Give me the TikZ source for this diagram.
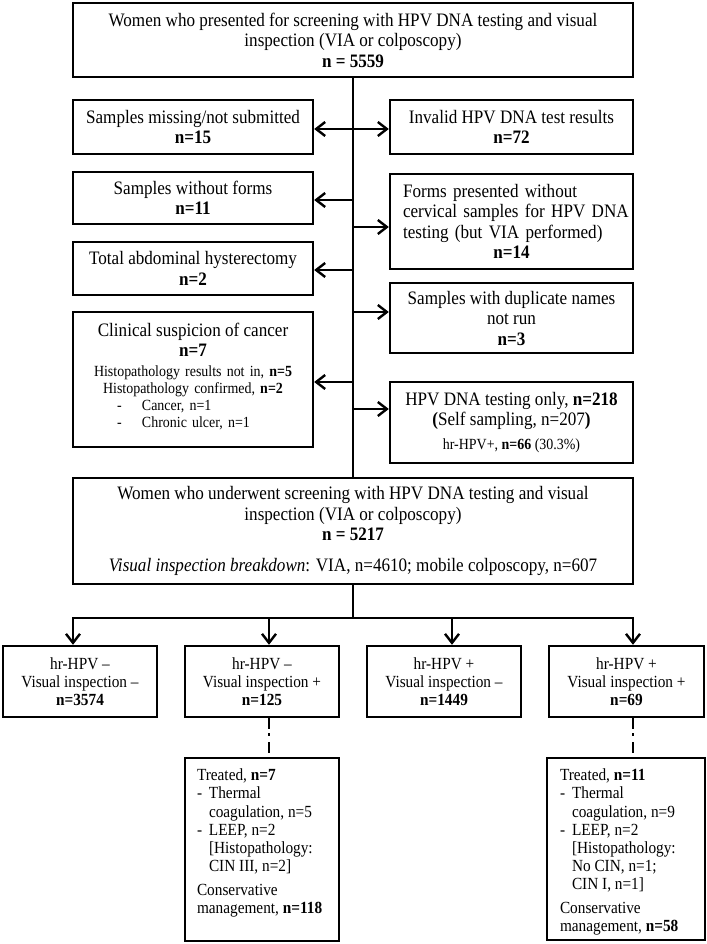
\documentclass[tikz,border=0pt]{standalone}
\usepackage{fontspec}
\setmainfont{Liberation Serif}[FakeStretch=0.9]
\usetikzlibrary{arrows.meta}
\newcommand\bigf{\fontsize{19}{20.5}\selectfont}
\newcommand\midf{\fontsize{17}{18.1}\selectfont}
\newcommand\smallf{\fontsize{15.5}{17}\selectfont}
\newcommand\dsh{\makebox[12pt][l]{-}}
\newcommand\myind{\hspace*{12pt}}
\begin{document}
\begin{tikzpicture}[x=1pt,y=-1pt,
  box/.style={draw, line width=2.4pt, inner sep=0pt, align=center, font=\bigf},
  lbl/.style={inner sep=0pt},
  ln/.style={line width=2.4pt},
  arr/.style={line width=2.4pt, -{Straight Barb[length=9pt,width=14pt]}},
  arrb/.style={line width=2.4pt, {Straight Barb[length=9pt,width=14pt]}-{Straight Barb[length=9pt,width=14pt]}},
  dashdot/.style={line width=2.4pt, dash pattern=on 11pt off 4pt on 3pt off 6pt}]
\useasboundingbox (0,0) rectangle (706,944);

% top
\node[box, minimum width=560, minimum height=74] (top) at (353,40)
  {Women who presented for screening with HPV DNA testing and visual\\inspection (VIA or colposcopy)\\\textbf{n = 5559}};

% left column
\node[box, minimum width=240, minimum height=54] (miss) at (193,127)
  {Samples missing/not submitted\\\textbf{n=15}};
\node[box, minimum width=240, minimum height=52] (swf) at (193,198)
  {Samples without forms\\\textbf{n=11}};
\node[box, minimum width=240, minimum height=53] (hyst) at (193,268.5)
  {Total abdominal hysterectomy\\\textbf{n=2}};
\node[box, minimum width=240, minimum height=135] (clin) at (193,379.5) {};
\node[lbl, font=\bigf, align=center] (clint) at (193,340)
  {Clinical suspicion of cancer\\\textbf{n=7}};
\node[lbl, font=\smallf, align=center, text width=240] (clins) at (193,398)
  {Histopathology results not in, \textbf{n=5}\\Histopathology confirmed, \textbf{n=2}\\
   \makebox[\linewidth][l]{\hspace*{44pt}\makebox[25pt][l]{-}Cancer, n=1}\\
   \makebox[\linewidth][l]{\hspace*{44pt}\makebox[25pt][l]{-}Chronic ulcer, n=1}};

% right column
\node[box, minimum width=243, minimum height=54] (inv) at (511.5,127)
  {Invalid HPV DNA test results\\\textbf{n=72}};
\node[box, minimum width=243, minimum height=95, text width=217] (forms) at (511.5,221.5)
  {\makebox[\linewidth][s]{Forms presented without}\\
   \makebox[\linewidth][l]{cervical samples for HPV DNA}\\
   \makebox[\linewidth][l]{testing (but VIA performed)}\\
   \textbf{n=14}};
\node[box, minimum width=243, minimum height=70] (dup) at (511.5,318)
  {Samples with duplicate names\\not run\\\textbf{n=3}};
\node[box, minimum width=243, minimum height=81] (only) at (511.5,422.5)
  {HPV DNA testing only, \textbf{n=218}\\\textbf{(}Self sampling, n=207\textbf{)}\\[3pt]{\smallf hr-HPV+, \textbf{n=66} (30.3\%)}};

% second main box
\node[box, minimum width=560, minimum height=106] (big2) at (353,531)
  {Women who underwent screening with HPV DNA testing and visual\\inspection (VIA or colposcopy)\\\textbf{n = 5217}\\[10pt]\textit{Visual inspection breakdown}: VIA, n=4610; mobile colposcopy, n=607};

% four outcome boxes
\node[box, font=\midf, minimum width=154, minimum height=71] (b1) at (80,681.5)
  {hr-HPV \textendash\\Visual inspection \textendash\\\textbf{n=3574}};
\node[box, font=\midf, minimum width=154, minimum height=71] (b2) at (262,681.5)
  {hr-HPV \textendash\\Visual inspection +\\\textbf{n=125}};
\node[box, font=\midf, minimum width=154, minimum height=71] (b3) at (444,681.5)
  {hr-HPV +\\Visual inspection \textendash\\\textbf{n=1449}};
\node[box, font=\midf, minimum width=155, minimum height=71] (b4) at (626.5,681.5)
  {hr-HPV +\\Visual inspection +\\\textbf{n=69}};

% lower boxes
\node[box, minimum width=154, minimum height=183] (l2) at (262,849.5) {};
\node[lbl, font=\midf, align=left, anchor=north west] (l2t) at ([xshift=13pt,yshift=-12pt]l2.north west)
  {Treated, \textbf{n=7}\\\dsh Thermal\\\myind coagulation, n=5\\\dsh LEEP, n=2\\\myind [Histopathology:\\\myind CIN III, n=2]\\[6pt]Conservative\\management, \textbf{n=118}};
\node[box, minimum width=158, minimum height=182] (l4) at (626,849) {};
\node[lbl, font=\midf, align=left, anchor=north west] (l4t) at ([xshift=14pt,yshift=-12pt]l4.north west)
  {Treated, \textbf{n=11}\\\dsh Thermal\\\myind coagulation, n=9\\\dsh LEEP, n=2\\\myind [Histopathology:\\\myind No CIN, n=1;\\\myind CIN I, n=1]\\[6pt]Conservative\\management, \textbf{n=58}};

% spine and side arrows
\draw[ln] (top.south) -- (big2.north);
\coordinate (p1) at (353,129);
\coordinate (p2) at (353,200);
\coordinate (p3) at (353,227);
\coordinate (p4) at (353,270);
\coordinate (p5) at (353,312);
\coordinate (p6) at (353,382);
\coordinate (p7) at (353,409);
\draw[arrb] (miss.east |- p1) -- (inv.west |- p1);
\draw[arr] (p2) -- (swf.east |- p2);
\draw[arr] (p3) -- (forms.west |- p3);
\draw[arr] (p4) -- (hyst.east |- p4);
\draw[arr] (p5) -- (dup.west |- p5);
\draw[arr] (p6) -- (clin.east |- p6);
\draw[arr] (p7) -- (only.west |- p7);

% bus
\coordinate (bus) at (353,618);
\coordinate (bus1) at (73,618);
\coordinate (bus2) at (269,618);
\coordinate (bus3) at (452,618);
\coordinate (bus4) at (633,618);
\draw[ln] (big2.south) -- (bus);
\draw[ln, line cap=rect] (bus1) -- (bus4);
\draw[arr] (bus1) -- (b1.north -| bus1);
\draw[arr] (bus2) -- (b2.north -| bus2);
\draw[arr] (bus3) -- (b3.north -| bus3);
\draw[arr] (bus4) -- (b4.north -| bus4);

% dash-dot links
\draw[dashdot] (b2.south -| bus2) -- (l2.north -| bus2);
\draw[dashdot] (b4.south -| bus4) -- (l4.north -| bus4);
\end{tikzpicture}
\end{document}
